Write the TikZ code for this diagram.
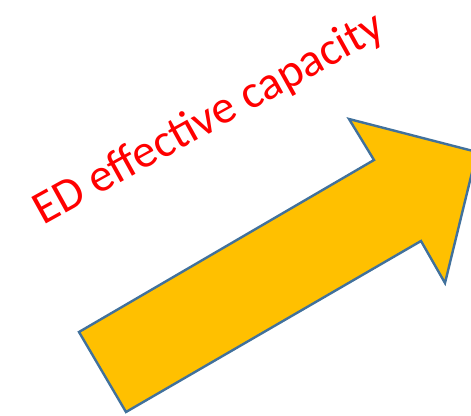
\documentclass[tikz,border=0pt]{standalone}
\usepackage{fontspec}
\setmainfont{Carlito}
\usepackage{xcolor}
\usepackage{tikz}
\usetikzlibrary{positioning}

\definecolor{arrowfill}{HTML}{FFC000}
\definecolor{arrowline}{HTML}{41719C}

\begin{document}
\begin{tikzpicture}[
    x=1pt, y=-1pt,
    bigarrow/.style={draw=arrowline, fill=arrowfill, line width=2.4pt, line join=miter},
    label/.style={text=red, font=\fontsize{47}{50}\selectfont, rotate=29, anchor=base west, inner sep=0pt}
]
\useasboundingbox (0,0) rectangle (471,415);

% Block arrow (tip runs past the right edge)
\begin{scope}
\clip (0,0) rectangle (471,415);
\draw[bigarrow] (79,332) -- (374,160) -- (349,119) -- (477,152) -- (445,283) -- (421,241) -- (126,412) -- cycle;
\end{scope}

% Caption
\node[label] (caption) at (43,226) {ED effective capacity};

\end{tikzpicture}
\end{document}
